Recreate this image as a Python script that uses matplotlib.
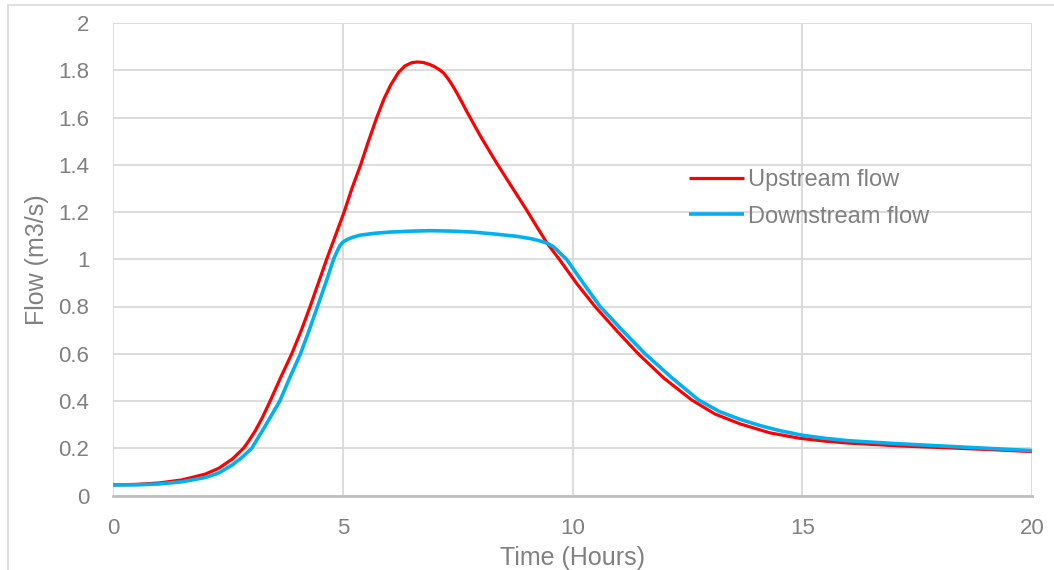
import matplotlib.pyplot as plt
from matplotlib.patches import Rectangle
from matplotlib.ticker import FuncFormatter, MultipleLocator

# Upstream flow
t_up = [0, 0.5, 1.0, 1.5, 2.0, 2.3, 2.6, 2.84, 2.95, 3.1, 3.25, 3.42, 3.65, 3.89, 4.1, 4.29,
        4.47, 4.65, 4.84, 5.03, 5.2, 5.39, 5.56, 5.74, 5.9, 6.05, 6.21, 6.35, 6.5, 6.62,
        6.75, 6.9, 7.0, 7.12, 7.2, 7.3, 7.4, 7.5, 7.6, 7.7, 8.0, 8.34, 8.65, 8.98, 9.2,
        9.44, 9.73, 10.1, 10.49, 10.95, 11.43, 12.0, 12.59, 13.1, 13.65, 14.3, 14.95,
        15.5, 16.0, 17.1, 18.0, 19.0, 20.0]
q_up = [0.045, 0.047, 0.053, 0.066, 0.09, 0.115, 0.155, 0.2, 0.23, 0.275, 0.33, 0.4, 0.5, 0.6, 0.7, 0.8,
        0.9, 1.0, 1.1, 1.2, 1.3, 1.4, 1.5, 1.6, 1.68, 1.74, 1.79, 1.818, 1.832, 1.835,
        1.833, 1.824, 1.815, 1.8, 1.787, 1.762, 1.732, 1.698, 1.662, 1.625, 1.52, 1.41, 1.315, 1.215, 1.145,
        1.07, 0.995, 0.895, 0.8, 0.7, 0.6, 0.495, 0.405, 0.345, 0.303, 0.265, 0.242,
        0.23, 0.222, 0.21, 0.203, 0.195, 0.186]

# Downstream flow
t_down = [0, 0.5, 1.0, 1.5, 2.0, 2.3, 2.6, 2.8, 3.02, 3.3, 3.63, 3.85, 4.08, 4.27, 4.45,
          4.63, 4.8, 4.88, 4.94, 5.0, 5.08, 5.2, 5.38, 5.7, 6.03, 6.5, 6.9, 7.4, 7.84,
          8.3, 8.79, 9.1, 9.29, 9.45, 9.57, 9.66, 9.76, 9.87, 10.23, 10.6, 11.08,
          11.58, 12.15, 12.74, 13.2, 13.65, 14.1, 14.5, 15.0, 15.5, 16.0, 17.0,
          18.0, 19.0, 20.0]
q_down = [0.045, 0.045, 0.049, 0.058, 0.076, 0.095, 0.13, 0.16, 0.2, 0.29, 0.4, 0.5, 0.6, 0.7, 0.8,
          0.9, 1.0, 1.035, 1.058, 1.072, 1.082, 1.092, 1.102, 1.11, 1.115, 1.119, 1.121, 1.119, 1.115,
          1.107, 1.097, 1.087, 1.078, 1.068, 1.055, 1.04, 1.02, 1.0, 0.9, 0.8, 0.7,
          0.6, 0.5, 0.405, 0.355, 0.322, 0.295, 0.275, 0.255, 0.242, 0.232, 0.22,
          0.21, 0.2, 0.19]

grey = '#808080'
plt.rcParams['font.family'] = ['Liberation Sans', 'DejaVu Sans']

fig = plt.figure(figsize=(10.54, 5.70), dpi=100)
ax = fig.add_axes([113 / 1054, 1 - 495.5 / 570, 919 / 1054, 472.5 / 570])

ax.plot(t_up, q_up, color='#ff0000', lw=2.3, label='Upstream flow',
        solid_joinstyle='round', solid_capstyle='butt')
ax.plot(t_down, q_down, color='#00b0f0', lw=2.6, label='Downstream flow',
        solid_joinstyle='round', solid_capstyle='butt')

ax.set_xlim(0, 20)
ax.set_ylim(0, 2)
ax.xaxis.set_major_locator(MultipleLocator(5))
ax.yaxis.set_major_locator(MultipleLocator(0.2))
ax.yaxis.set_major_formatter(FuncFormatter(lambda v, p: f'{v:g}'))

ax.grid(True, color='#d9d9d9', lw=1.3)
ax.set_axisbelow(True)
for s in ['top', 'right', 'left']:
    ax.spines[s].set_visible(False)
ax.spines['bottom'].set_color('#bfbfbf')
ax.spines['bottom'].set_linewidth(2)

ax.tick_params(axis='both', length=0, labelsize=16, colors=grey)
ax.tick_params(axis='y', pad=17)
ax.tick_params(axis='x', pad=16)

ax.set_xlabel('Time (Hours)', fontsize=18, color=grey, labelpad=5)
ax.set_ylabel('Flow (m3/s)', fontsize=18, color=grey, labelpad=7)

leg = ax.legend(loc='upper left', bbox_to_anchor=(680 / 1054, 1 - 160 / 570),
                bbox_transform=fig.transFigure, frameon=False, fontsize=17,
                handlelength=2.3, handletextpad=0.2, labelspacing=0.6, borderaxespad=0)
for txt in leg.get_texts():
    txt.set_color(grey)

fig.patches.append(Rectangle((8 / 1054, -0.1), 1.2, 1.1 - 5 / 570, transform=fig.transFigure,
                             fill=False, edgecolor='#d9d9d9', lw=1.2))

fig.savefig('out.png', dpi=100)
